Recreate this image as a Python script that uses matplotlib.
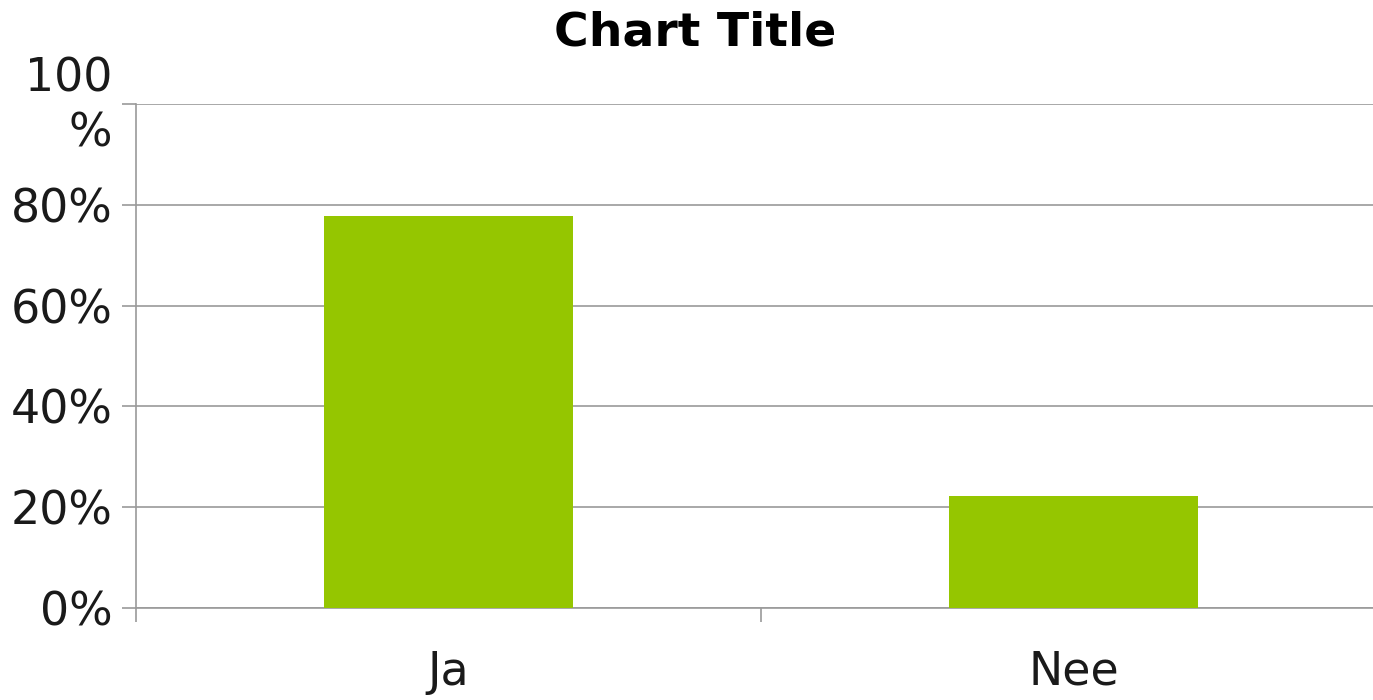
import matplotlib
matplotlib.use("Agg")
import matplotlib.pyplot as plt
import matplotlib.transforms as mtransforms
from matplotlib.ticker import FixedLocator

categories = ["Ja", "Nee"]
values = [77.78, 22.22]
ytick_vals = [0, 20, 40, 60, 80, 100]
ytick_labels = ["0%", "20%", "40%", "60%", "80%", "100\n%"]

plt.rcParams['font.family'] = ['DejaVu Sans']
fig = plt.figure(figsize=(13.73, 7.0), dpi=100)
# plot area extends slightly past the right image edge (as in the reference)
ax = fig.add_axes([136/1373, 1-608/700, 1250/1373, (608-104)/700])

x = list(range(len(categories)))
ax.bar(x, values, width=0.398, color="#95c600", zorder=3)

ax.set_xlim(-0.5, len(categories) - 0.5)
ax.set_ylim(0, 100)

grid_color = "#9a9a9a"
ax.set_yticks(ytick_vals)
ax.set_yticklabels(ytick_labels, fontsize=33, color="#1a1a1a",
                   multialignment="right", linespacing=1.27)
ax.yaxis.grid(True, color=grid_color, linewidth=1.2, zorder=0)
ax.tick_params(axis="y", length=10, width=1.2, color=grid_color, pad=7)

# nudge wrapped "100 %" label so it is centred on its tick like the reference
lbl = ax.get_yticklabels()[-1]
lbl.set_transform(lbl.get_transform() +
                  mtransforms.ScaledTranslation(0, 7/100, fig.dpi_scale_trans))

ax.set_xticks(x)
ax.set_xticklabels(categories, fontsize=33, color="#1a1a1a")
ax.tick_params(axis="x", which="major", length=0, pad=30)
ax.xaxis.set_minor_locator(FixedLocator([-0.5, 0.5]))
ax.tick_params(axis="x", which="minor", length=10, width=1.2, color=grid_color)

for s in ["top", "right"]:
    ax.spines[s].set_visible(False)
for s in ["left", "bottom"]:
    ax.spines[s].set_color(grid_color)
    ax.spines[s].set_linewidth(1.2)

fig.text(695/1373, 1-33/700, "Chart Title", ha="center", va="center",
         fontsize=34, fontweight="bold", color="black")

fig.savefig("out.png", dpi=100)
